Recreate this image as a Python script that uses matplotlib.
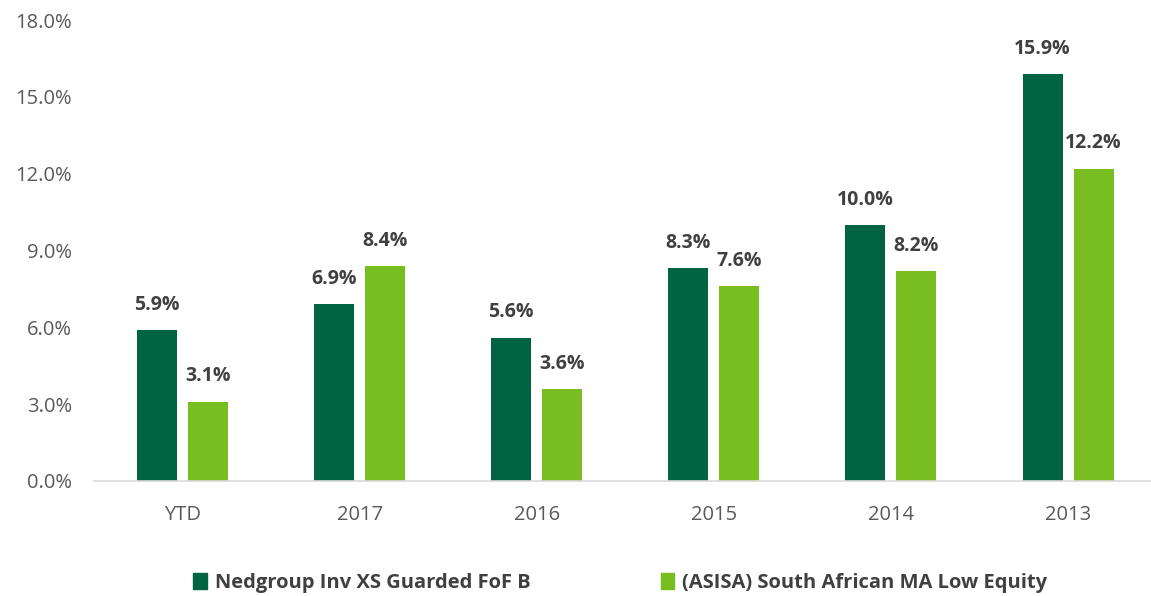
import matplotlib
matplotlib.use("Agg")
import matplotlib.pyplot as plt
import numpy as np
from matplotlib.patches import Patch

categories = ["YTD", "2017", "2016", "2015", "2014", "2013"]
fund = [5.9, 6.9, 5.6, 8.3, 10.0, 15.9]
sector = [3.1, 8.4, 3.6, 7.6, 8.2, 12.2]
series_names = ["Nedgroup Inv XS Guarded FoF B", "(ASISA) South African MA Low Equity"]
yticks = [0, 3, 6, 9, 12, 15, 18]

DARK = "#006341"
LIGHT = "#78BE20"
LABEL = "#404040"
TICK = "#595959"
FS = 14.5

plt.rcParams["font.family"] = ["Open Sans", "DejaVu Sans"]

fig = plt.figure(figsize=(11.51, 5.96), dpi=100)
ax = fig.add_axes([94 / 1151, 1 - 481 / 596, 1 - 94 / 1151, (481 - 20) / 596])

x = np.arange(len(categories))
w = 0.226
off = 0.144
b1 = ax.bar(x - off, fund, w, color=DARK, label=series_names[0])
b2 = ax.bar(x + off, sector, w, color=LIGHT, label=series_names[1])

for bars, vals in [(b1, fund), (b2, sector)]:
    for rect, v in zip(bars, vals):
        ax.annotate(f"{v:.1f}%", (rect.get_x() + rect.get_width() / 2, v),
                    xytext=(0, 11), textcoords="offset points",
                    ha="center", va="bottom", fontsize=FS - 0.5,
                    fontweight="bold", color=LABEL)

ax.set_xlim(-0.5, (1151 - 94) / 177.1 - 0.5)
ax.set_ylim(0, 18)
ax.set_yticks(yticks)
ax.set_yticklabels([f"{t:.1f}%" for t in yticks], fontsize=FS, color=TICK)
ax.set_xticks(x)
ax.set_xticklabels(categories, fontsize=FS, color=TICK)
ax.tick_params(length=0, axis="y", pad=16)
ax.tick_params(length=0, axis="x", pad=17)

for s in ["top", "right", "left"]:
    ax.spines[s].set_visible(False)
ax.spines["bottom"].set_color("#D9D9D9")
ax.spines["bottom"].set_linewidth(1.2)

handles = [Patch(color=DARK), Patch(color=LIGHT)]
fig.legend(handles, series_names, loc="center", bbox_to_anchor=(0.539, 0.022),
           ncol=2, frameon=False, handlelength=0.65, handleheight=0.8,
           handletextpad=0.4, columnspacing=6.5,
           prop={"family": ["Open Sans", "DejaVu Sans"], "weight": "bold", "size": FS})
for t in fig.legends[0].get_texts():
    t.set_color(LABEL)

fig.savefig("out.png", dpi=100, facecolor="white")
